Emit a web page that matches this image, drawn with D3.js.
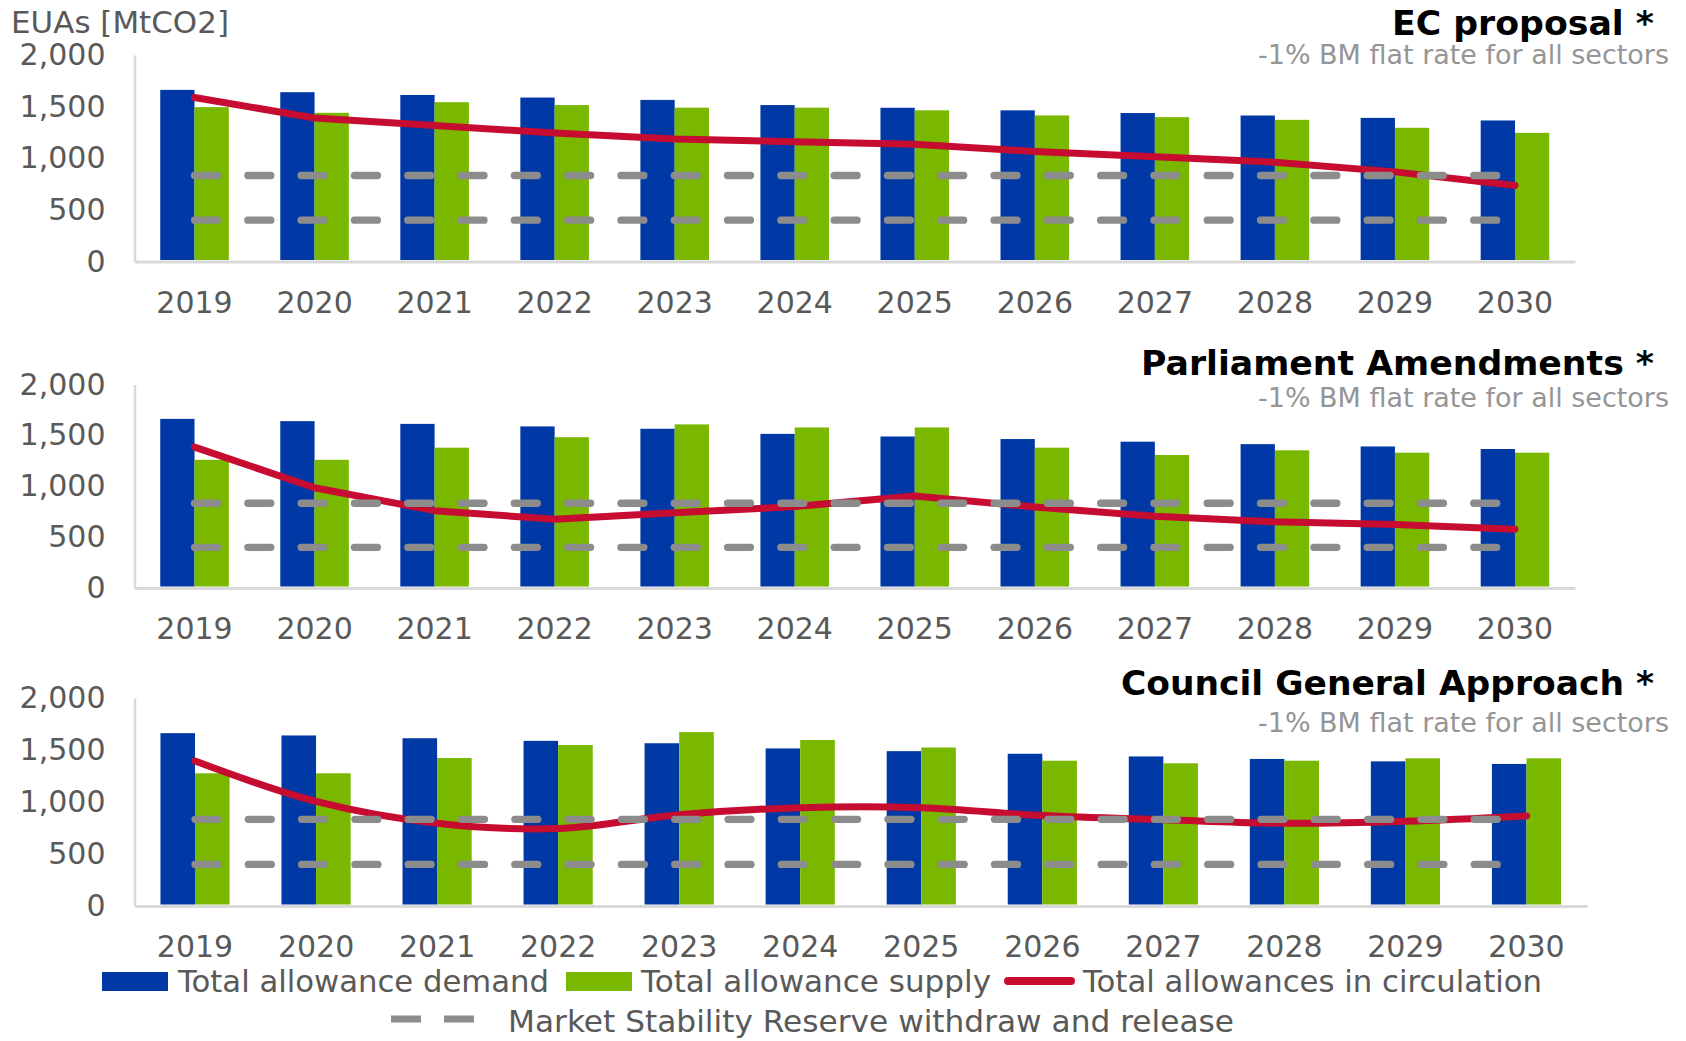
<!DOCTYPE html>
<html>
<head>
<meta charset="utf-8">
<script src="https://cdn.jsdelivr.net/npm/d3@7"></script>
<style>
  html, body { margin: 0; padding: 0; background: #ffffff; }
  svg { display: block; font-family: "DejaVu Sans", Verdana, sans-serif; }
</style>
</head>
<body>
<svg id="chart" width="1686" height="1041"></svg>
<script>
// ---------------- DATA ----------------
const years = ['2019','2020','2021','2022','2023','2024','2025','2026','2027','2028','2029','2030'];
const yTicks = [0, 500, 1000, 1500, 2000];

const demand = [1662, 1640, 1613, 1588, 1565, 1515, 1489, 1464, 1438, 1414, 1391, 1366];

const supplyEC      = [1495, 1440, 1543, 1515, 1490, 1490, 1464, 1415, 1398, 1372, 1295, 1246];
const supplyEP      = [1260, 1260, 1379, 1482, 1608, 1578, 1578, 1379, 1307, 1353, 1330, 1330];
const supplyCouncil = [1276, 1276, 1423, 1548, 1672, 1596, 1524, 1397, 1372, 1397, 1420, 1420];

const circulationEC      = [1588, 1390, 1318, 1245, 1186, 1160, 1135, 1066, 1015, 962, 868, 737];
const circulationEP      = [1385, 985, 760, 675, 740, 800, 905, 795, 705, 650, 625, 578];
const circulationCouncil = [1394, 1005, 795, 745, 878, 945, 945, 870, 830, 796, 815, 866];

const msrUpper = [833, 833, 833, 833, 833, 833, 833, 833, 833, 833, 833, 833];
const msrLower = [400, 400, 400, 400, 400, 400, 400, 400, 400, 400, 400, 400];

const panelTitles = ['EC proposal *', 'Parliament Amendments *', 'Council General Approach *'];
const panelSubtitle = '-1% BM flat rate for all sectors';
const yAxisTitle = 'EUAs [MtCO2]';
const legendLabels = ['Total allowance demand', 'Total allowance supply',
                      'Total allowances in circulation', 'Market Stability Reserve withdraw and release'];

// ---------------- STYLE / LAYOUT ----------------
const C = { blue: '#0039A6', green: '#7AB800', red: '#C60C30', gray: '#8C8C8C',
            axis: '#D9D9D9', text: '#595959', sub: '#959595' };

const panels = [
  { title: panelTitles[0], supply: supplyEC, circ: circulationEC, titleW: 262,
    x0: 134.5, x1: 1575, yTop: 55, yBase: 261.5, titleY: 35, subY: 64, curve: d3.curveLinear },
  { title: panelTitles[1], supply: supplyEP, circ: circulationEP, titleW: 513,
    x0: 134.5, x1: 1575, yTop: 384.5, yBase: 588, titleY: 375, subY: 407, curve: d3.curveLinear },
  { title: panelTitles[2], supply: supplyCouncil, circ: circulationCouncil, titleW: 533,
    x0: 134.5, x1: 1587, yTop: 698, yBase: 906, titleY: 695, subY: 732, curve: d3.curveCatmullRom.alpha(0.5) }
];

const svg = d3.select('#chart');

svg.append('text')
  .attr('x', 11).attr('y', 33)
  .attr('font-size', 30).attr('fill', C.text)
  .attr('textLength', 218).attr('lengthAdjust', 'spacingAndGlyphs')
  .text(yAxisTitle);

panels.forEach(p => {
  const g = svg.append('g');
  const x = d3.scaleBand().domain(years).range([p.x0, p.x1]).padding(0);
  const bw = x.bandwidth() / 3.5;
  const inner = d3.scaleBand().domain(['demand', 'supply']).range([-bw, bw]).padding(0);
  const y = d3.scaleLinear().domain([0, 2000]).range([p.yBase, p.yTop]);
  const cx = yr => x(yr) + x.bandwidth() / 2;

  // Y axis
  const ya = g.append('g').attr('transform', `translate(${p.x0},0)`)
    .call(d3.axisLeft(y).tickValues(yTicks).tickSize(0).tickPadding(29).tickFormat(d3.format(',')));
  ya.select('.domain').attr('stroke', C.axis).attr('stroke-width', 2.5);
  ya.selectAll('text').attr('font-size', 30).attr('fill', C.text)
    .attr('font-family', '"DejaVu Sans", Verdana, sans-serif');

  // X axis
  const xa = g.append('g').attr('transform', `translate(0,${p.yBase})`)
    .call(d3.axisBottom(x).tickSize(0).tickPadding(30));
  xa.select('.domain').attr('stroke', C.axis).attr('stroke-width', 3);
  xa.selectAll('text').attr('font-size', 30).attr('fill', C.text)
    .attr('font-family', '"DejaVu Sans", Verdana, sans-serif');

  // Bars
  g.append('g').selectAll('rect.d').data(demand).join('rect')
    .attr('x', (d, i) => cx(years[i]) + inner('demand'))
    .attr('width', inner.bandwidth())
    .attr('y', d => y(d)).attr('height', d => y(0) - y(d) - 1.5)
    .attr('fill', C.blue);
  g.append('g').selectAll('rect.s').data(p.supply).join('rect')
    .attr('x', (d, i) => cx(years[i]) + inner('supply'))
    .attr('width', inner.bandwidth())
    .attr('y', d => y(d)).attr('height', d => y(0) - y(d) - 1.5)
    .attr('fill', C.green);

  // Circulation line
  const line = d3.line().x((d, i) => cx(years[i])).y(d => y(d)).curve(p.curve);
  g.append('path').datum(p.circ)
    .attr('d', line).attr('fill', 'none')
    .attr('stroke', C.red).attr('stroke-width', 7)
    .attr('stroke-linecap', 'round').attr('stroke-linejoin', 'round');

  // MSR thresholds
  const flat = d3.line().x((d, i) => cx(years[i])).y(d => y(d));
  [msrUpper, msrLower].forEach(arr => {
    g.append('path').datum(arr)
      .attr('d', flat).attr('fill', 'none')
      .attr('stroke', C.gray).attr('stroke-width', 7.3)
      .attr('stroke-dasharray', '23,30.3')
      .attr('stroke-linecap', 'round');
  });

  // Titles
  g.append('text').attr('x', 1654).attr('y', p.titleY)
    .attr('text-anchor', 'end').attr('font-size', 34).attr('font-weight', 'bold')
    .attr('textLength', p.titleW).attr('lengthAdjust', 'spacingAndGlyphs')
    .attr('fill', '#000').text(p.title);
  g.append('text').attr('x', 1669).attr('y', p.subY)
    .attr('text-anchor', 'end').attr('font-size', 26)
    .attr('textLength', 411).attr('lengthAdjust', 'spacingAndGlyphs')
    .attr('fill', C.sub).text(panelSubtitle);
});

// ---------------- LEGEND ----------------
const lg = svg.append('g').attr('font-size', 30).attr('fill', C.text);
const lt = (x, y, w, s) => lg.append('text').attr('x', x).attr('y', y)
  .attr('textLength', w).attr('lengthAdjust', 'spacingAndGlyphs').text(s);
lg.append('rect').attr('x', 102).attr('y', 972).attr('width', 66).attr('height', 19).attr('fill', C.blue);
lt(178, 992, 371, legendLabels[0]);
lg.append('rect').attr('x', 566).attr('y', 972).attr('width', 66).attr('height', 19).attr('fill', C.green);
lt(641, 992, 350, legendLabels[1]);
lg.append('line').attr('x1', 1008).attr('x2', 1071).attr('y1', 981).attr('y2', 981)
  .attr('stroke', C.red).attr('stroke-width', 8).attr('stroke-linecap', 'round');
lt(1083, 992, 459, legendLabels[2]);
lg.append('line').attr('x1', 391).attr('x2', 475).attr('y1', 1019).attr('y2', 1019)
  .attr('stroke', C.gray).attr('stroke-width', 7).attr('stroke-dasharray', '30,23');
lt(508, 1032, 726, legendLabels[3]);
</script>
</body>
</html>
